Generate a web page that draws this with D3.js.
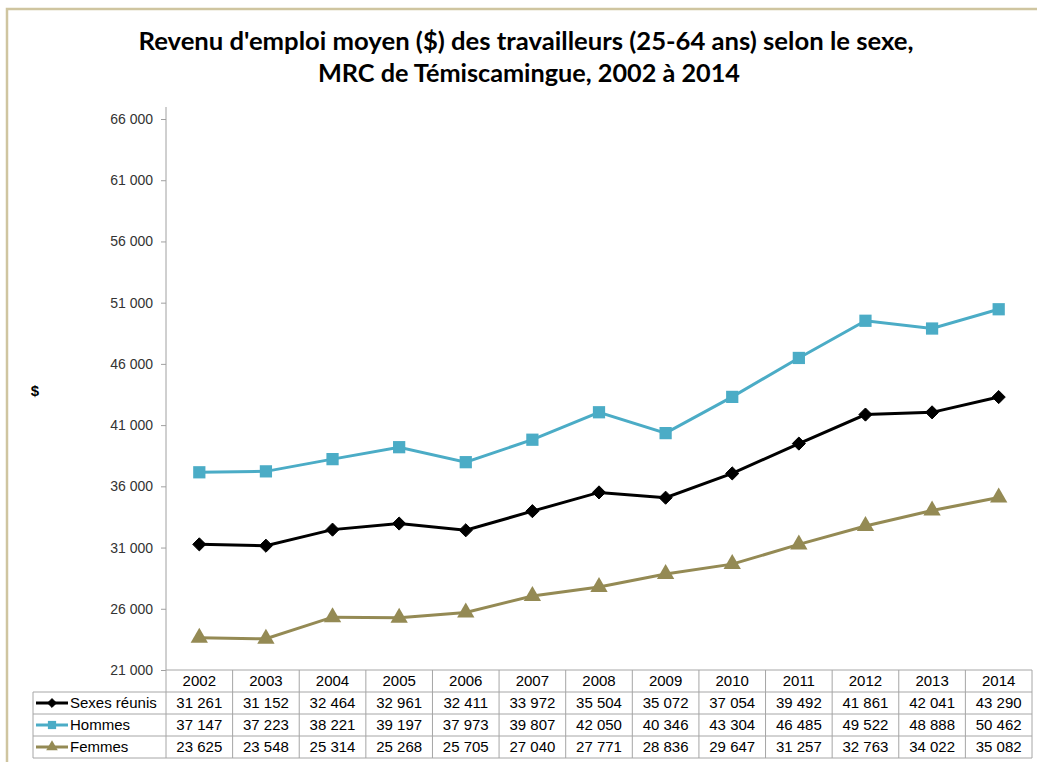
<!DOCTYPE html>
<html>
<head>
<meta charset="utf-8">
<script src="https://cdn.jsdelivr.net/npm/d3@7"></script>
<style>
  body { margin: 0; background: #fff; }
  svg { display: block; }
</style>
</head>
<body>
<div id="chart"></div>
<script>
// data
const years = [2002, 2003, 2004, 2005, 2006, 2007, 2008, 2009, 2010, 2011, 2012, 2013, 2014]
const sexesReunis = [31261, 31152, 32464, 32961, 32411, 33972, 35504, 35072, 37054, 39492, 41861, 42041, 43290]
const hommes = [37147, 37223, 38221, 39197, 37973, 39807, 42050, 40346, 43304, 46485, 49522, 48888, 50462]
const femmes = [23625, 23548, 25314, 25268, 25705, 27040, 27771, 28836, 29647, 31257, 32763, 34022, 35082]
const yTicks = [21000, 26000, 31000, 36000, 41000, 46000, 51000, 56000, 61000, 66000]

const series = [
  { name: 'Sexes réunis', values: sexesReunis, color: '#000000', symbol: d3.symbolDiamond2, size: 110 },
  { name: 'Hommes', values: hommes, color: '#4BACC6', symbol: d3.symbolSquare, size: 150 },
  { name: 'Femmes', values: femmes, color: '#948A54', symbol: d3.symbolTriangle, size: 130 }
]

const W = 1037
const H = 762
const plot = { left: 166, right: 1032, top: 107, bottom: 670 }

const svg = d3.select('#chart')
  .append('svg')
  .attr('width', W)
  .attr('height', H)

// frame
svg.append('path')
  .attr('d', `M7,${H} L7,9 L${W},9`)
  .attr('fill', 'none')
  .attr('stroke', '#CFC5A0')
  .attr('stroke-width', 2.5)

// title
const title = svg.append('text')
  .attr('text-anchor', 'middle')
  .attr('font-family', 'Lato, Open Sans, sans-serif')
  .attr('font-weight', 'bold')
  .attr('font-size', 24)
  .attr('fill', '#000')
title.append('tspan').attr('x', 526).attr('y', 50)
  .attr('textLength', 775).attr('lengthAdjust', 'spacingAndGlyphs')
  .text("Revenu d'emploi moyen ($) des travailleurs (25-64 ans) selon le sexe,")
title.append('tspan').attr('x', 529).attr('y', 82)
  .attr('textLength', 422).attr('lengthAdjust', 'spacingAndGlyphs')
  .text('MRC de Témiscamingue, 2002 à 2014')

const x = d3.scaleBand()
  .domain(years)
  .range([plot.left, plot.right])

const y = d3.scaleLinear()
  .domain([21000, 66000])
  .range([plot.bottom, 119])

const fmt = v => d3.format(',')(v).replace(/,/g, ' ')

// y axis
const yAxis = d3.axisLeft(y)
  .tickValues(yTicks)
  .tickSize(5)
  .tickPadding(8)
  .tickFormat(fmt)

const gy = svg.append('g')
  .attr('transform', `translate(${plot.left},0)`)
  .call(yAxis)
gy.select('.domain').remove()
gy.selectAll('line').attr('stroke', '#A0A0A0')
gy.selectAll('text')
  .attr('font-family', 'Liberation Sans, Arial, sans-serif')
  .attr('font-size', 14)
  .attr('fill', '#333')

svg.append('line')
  .attr('x1', plot.left).attr('x2', plot.left)
  .attr('y1', plot.top).attr('y2', plot.bottom)
  .attr('stroke', '#A0A0A0')

svg.append('text')
  .attr('x', 35).attr('y', 396)
  .attr('text-anchor', 'middle')
  .attr('font-family', 'Liberation Sans, Arial, sans-serif')
  .attr('font-weight', 'bold')
  .attr('font-size', 15)
  .text('$')

// lines + markers
const cx = yr => x(yr) + x.bandwidth() / 2
const line = d3.line()
  .x((d, i) => cx(years[i]))
  .y(d => y(d))

series.forEach(s => {
  svg.append('path')
    .datum(s.values)
    .attr('d', line)
    .attr('fill', 'none')
    .attr('stroke', s.color)
    .attr('stroke-width', 3)

  svg.selectAll(null)
    .data(s.values)
    .enter()
    .append('path')
    .attr('d', d3.symbol().type(s.symbol).size(s.size))
    .attr('transform', (d, i) => `translate(${cx(years[i])},${y(d)})`)
    .attr('fill', s.color)
    .attr('stroke', s.symbol === d3.symbolDiamond2 ? s.color : 'none')
})

// data table
const rowH = 22
const tableTop = plot.bottom
const labelLeft = 33
const gridColor = '#A6A6A6'
const tableFont = 'Liberation Sans, Arial, sans-serif'

// header years
svg.selectAll('.yr')
  .data(years)
  .enter()
  .append('text')
  .attr('class', 'yr')
  .attr('x', d => cx(d))
  .attr('y', tableTop + rowH / 2 + 5)
  .attr('text-anchor', 'middle')
  .attr('font-family', tableFont)
  .attr('font-size', 15)
  .text(d => d)

// horizontal lines
const hLines = [0, 1, 2, 3, 4]
hLines.forEach(i => {
  svg.append('line')
    .attr('x1', i === 0 ? plot.left : labelLeft)
    .attr('x2', plot.right)
    .attr('y1', tableTop + i * rowH)
    .attr('y2', tableTop + i * rowH)
    .attr('stroke', gridColor)
})

// vertical lines
years.concat(['end']).forEach(yr => {
  const xx = yr === 'end' ? plot.right : x(yr)
  svg.append('line')
    .attr('x1', xx).attr('x2', xx)
    .attr('y1', tableTop)
    .attr('y2', tableTop + 4 * rowH)
    .attr('stroke', gridColor)
})
svg.append('line')
  .attr('x1', labelLeft).attr('x2', labelLeft)
  .attr('y1', tableTop + rowH)
  .attr('y2', tableTop + 4 * rowH)
  .attr('stroke', gridColor)

series.forEach((s, r) => {
  const ry = tableTop + (r + 1) * rowH + rowH / 2
  // legend key
  svg.append('line')
    .attr('x1', 36).attr('x2', 68)
    .attr('y1', ry).attr('y2', ry)
    .attr('stroke', s.color)
    .attr('stroke-width', 3)
  svg.append('path')
    .attr('d', d3.symbol().type(s.symbol).size(s.size * 0.45))
    .attr('transform', `translate(52,${ry})`)
    .attr('fill', s.color)
    .attr('stroke', s.symbol === d3.symbolDiamond2 ? s.color : 'none')
  svg.append('text')
    .attr('x', 70).attr('y', ry + 5)
    .attr('font-family', tableFont)
    .attr('font-size', 15)
    .text(s.name)

  svg.selectAll(null)
    .data(s.values)
    .enter()
    .append('text')
    .attr('x', (d, i) => cx(years[i]))
    .attr('y', ry + 5)
    .attr('text-anchor', 'middle')
    .attr('font-family', tableFont)
    .attr('font-size', 15)
    .text(d => fmt(d))
})
</script>
</body>
</html>
